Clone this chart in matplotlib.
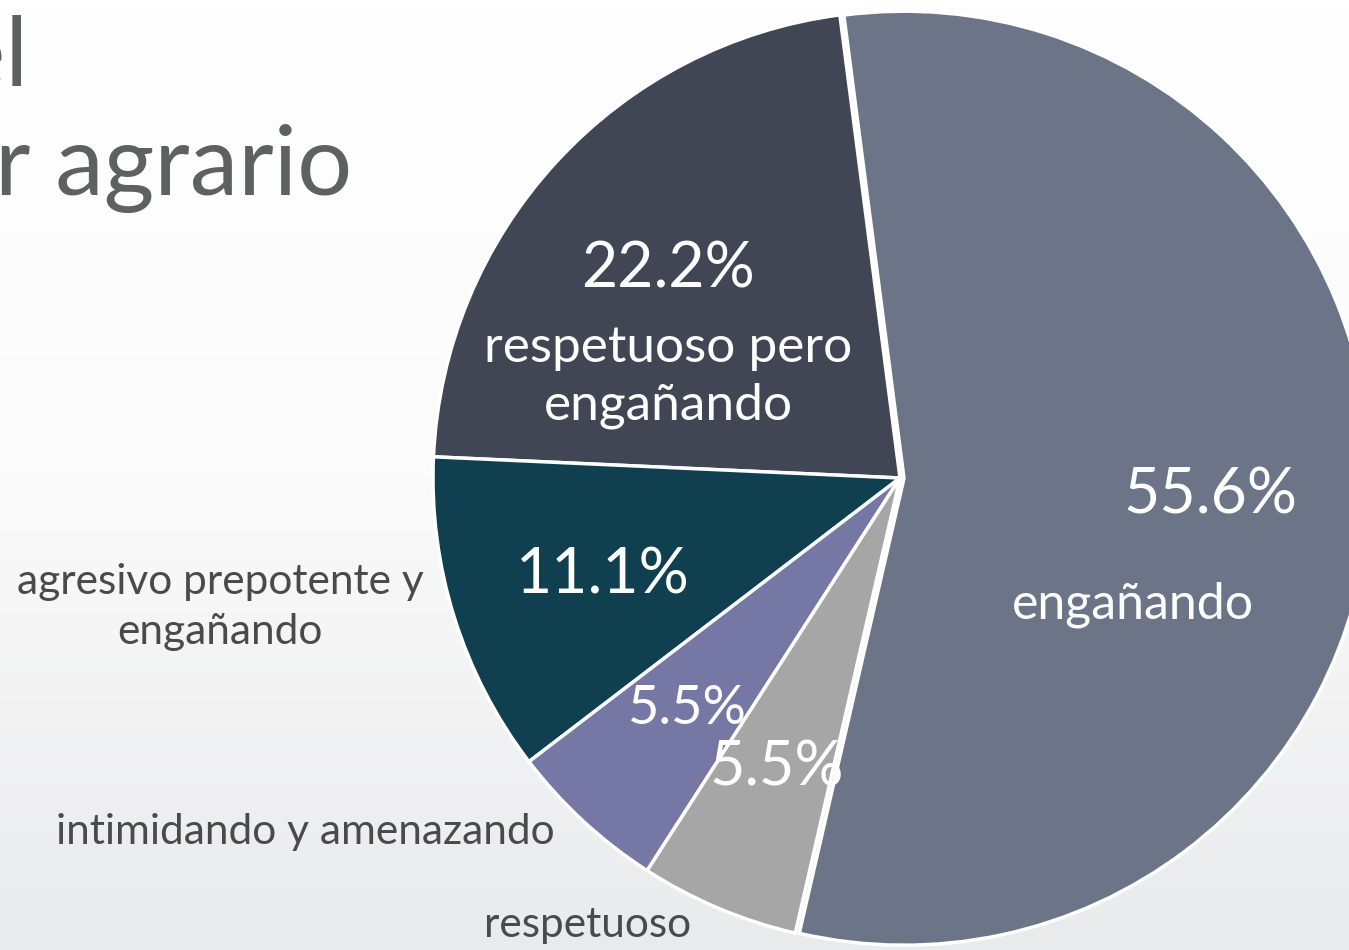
import numpy as np
import matplotlib
matplotlib.use("Agg")
import matplotlib.pyplot as plt
from matplotlib.colors import LinearSegmentedColormap

plt.rcParams['font.family'] = ['Lato', 'DejaVu Sans']

categories = ["respetuoso pero\nengañando", "agresivo prepotente y\nengañando",
              "intimidando y amenazando", "respetuoso", "engañando"]
values = [22.2, 11.1, 5.5, 5.5, 55.6]
pct_labels = ["22.2%", "11.1%", "5.5%", "5.5%", "55.6%"]
colors = ["#414654", "#10404f", "#7577a5", "#a6a6a6", "#6b7587"]

W, H = 1349, 950
fig = plt.figure(figsize=(W / 100, H / 100), dpi=100)
ax = fig.add_axes([0, 0, 1, 1])
ax.axis('off')

# background gradient (gray at bottom, white at top)
grad = np.linspace(0, 1, 256).reshape(-1, 1)
cmap = LinearSegmentedColormap.from_list("bg", ["#e9eaec", "#fbfbfb", "#ffffff"])
ax.imshow(grad, extent=[0, W, 0, H], origin='lower', cmap=cmap,
          aspect='auto', zorder=0)

cx, cy, r = 900, H - 478, 467
wedges, _ = ax.pie(values, colors=colors, startangle=97.4, counterclock=True,
                   center=(cx, cy), radius=r, explode=[0, 0, 0, 0, 4],
                   wedgeprops=dict(edgecolor="white", linewidth=2.5))
for w in wedges:
    w.set_zorder(2)
ax.set_xlim(0, W)
ax.set_ylim(0, H)
ax.set_aspect('equal')

white = "white"
gray_txt = "#4a4a4a"

def T(x, y, s, size, color, **kw):
    ax.text(x, H - y, s, fontsize=size, color=color, ha='center', va='center',
            zorder=5, **kw)

# inside labels
T(668, 270, pct_labels[0], 45, white)
T(668, 377, categories[0], 37, white, linespacing=1.32)
T(1210, 495, pct_labels[4], 45, white)
T(1133, 605, categories[4], 36, white)
T(603, 575, pct_labels[1], 45, white)
T(686, 708, pct_labels[2], 39, white)
T(777, 768, pct_labels[3], 44, white)

# outside labels
T(220, 607, categories[1], 30.5, gray_txt, linespacing=1.38)
T(305, 832, categories[2], 30.5, gray_txt)
T(588, 925, categories[3], 30.5, gray_txt)

# partial title (cut off at the left edge as in the original slide)
title_color = "#5f6060"
ax.text(28, H - 85, "el", fontsize=70, color=title_color, ha='right',
        va='baseline', zorder=5)
ax.text(352, H - 195, "r agrario", fontsize=70, color=title_color, ha='right',
        va='baseline', zorder=5)

fig.savefig("out.png", dpi=100)
